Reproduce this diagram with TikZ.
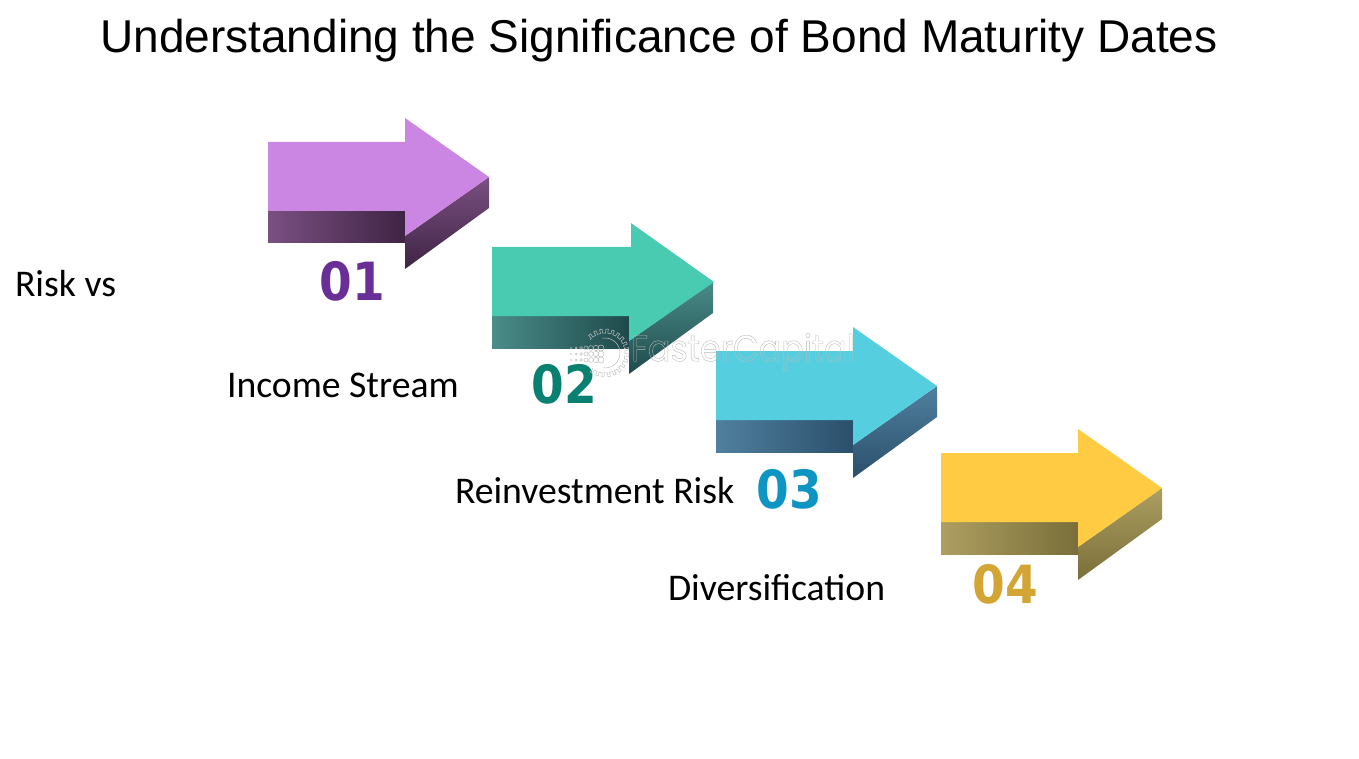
\documentclass[tikz,border=0pt]{standalone}
\usepackage{fontspec}
\setmainfont{Carlito}
\newfontfamily\titlefont{Liberation Sans}
\newfontfamily\numfont{DejaVu Sans}
\newfontfamily\markfont{Poppins}
\usepackage{xcolor}
\usetikzlibrary{positioning}
\definecolor{lilac}{HTML}{CB85E3}
\definecolor{lilacA}{HTML}{7A5082}
\definecolor{lilacB}{HTML}{3F2444}
\definecolor{lilacN}{HTML}{6A2F97}
\definecolor{mint}{HTML}{48CBB0}
\definecolor{mintA}{HTML}{4A8C88}
\definecolor{mintB}{HTML}{1F4A4C}
\definecolor{mintN}{HTML}{0A8070}
\definecolor{sky}{HTML}{55CFDF}
\definecolor{skyA}{HTML}{50809F}
\definecolor{skyB}{HTML}{2A4F6B}
\definecolor{skyN}{HTML}{0F95C4}
\definecolor{gold}{HTML}{FECB43}
\definecolor{goldA}{HTML}{AD9F60}
\definecolor{goldB}{HTML}{7A6E3A}
\definecolor{goldN}{HTML}{D2A535}
\tikzstyle{label} = [inner sep=0, outer sep=0, anchor=west, font=\fontsize{37.7}{40}\selectfont]
\tikzstyle{number} = [inner sep=0, outer sep=0, font=\numfont\bfseries\fontsize{47}{50}\selectfont]
\tikzstyle{wheel} = [draw=gray!50, line width=0.5pt]
\newcommand{\topface}{(0, 24) -- (137, 24) -- (137, 0) -- (221, 59) -- (137, 118) -- (137, 93) -- (0, 93) -- cycle}
\newcommand{\bandface}{(0, 93) rectangle (137, 125)}
\newcommand{\headface}{(137, 118) -- (221, 59) -- (221, 90) -- (137, 151) -- cycle}
\newcommand{\tall}[1]{\scalebox{1}[1.12]{#1}}

\begin{document}
\begin{tikzpicture}[x=1pt, y=-1pt]
\useasboundingbox (0, 0) rectangle (1359, 759);
\node at (659, 41) [inner sep=0, font=\titlefont\fontsize{46}{50}\selectfont] (title) {Understanding the Significance of Bond Maturity Dates};

\begin{scope}[shift={(268, 118)}]
\path [left color=lilacA, right color=lilacB] \bandface;
\path [top color=lilacA, bottom color=lilacB] \headface;
\path [fill=lilac] \topface;
\end{scope}
\node at (352, 281) [number, text=lilacN] (n1) {\tall{01}};
\node at (15, 283.5) [label] (l1) {Risk vs};

\begin{scope}[shift={(492, 223)}]
\path [left color=mintA, right color=mintB] \bandface;
\path [top color=mintA, bottom color=mintB] \headface;
\path [fill=mint] (0, 24) -- (139, 24) -- (139, 0) -- (222, 59) -- (137, 118) -- (137, 93) -- (0, 93) -- cycle;
\end{scope}
\node at (564, 384) [number, text=mintN] (n2) {\tall{02}};
\node at (227, 385.5) [label] (l2) {Income Stream};

\begin{scope}[shift={(716, 327)}]
\path [left color=skyA, right color=skyB] \bandface;
\path [top color=skyA, bottom color=skyB] \headface;
\path [fill=sky] \topface;
\end{scope}
\node at (789, 489) [number, text=skyN] (n3) {\tall{03}};
\node at (455, 491) [label] (l3) {Reinvestment Risk};

\begin{scope}[shift={(941, 429)}]
\path [left color=goldA, right color=goldB] \bandface;
\path [top color=goldA, bottom color=goldB] \headface;
\path [fill=gold] \topface;
\end{scope}
\node at (1005, 584) [number, text=goldN] (n4) {\tall{04}};
\node at (668, 588) [label] (l4) {Diversification};

% watermark
\node at (743, 352) [inner sep=0, text=gray!55, xscale=0.9, font=\markfont\fontsize{37}{40}\selectfont] (mark) {\special{pdf:code 1 Tr 0.4 w}FasterCapital\special{pdf:code 0 Tr}};
\begin{scope}[shift={(605, 353)}]
\draw [wheel] (-100:15) arc (-100:100:15);
\foreach \a in {-130, -115, ..., 130} {
  \draw [wheel] (\a-9:20) -- (\a-3:20) -- (\a-3:24) -- (\a+3:24) -- (\a+3:20) -- (\a+6:20);
}
\end{scope}
\foreach \x/\r in {571/0.6, 576/0.9, 581/1.4, 586/2, 591/2.4, 596/2.7, 601/3} {
  \draw [wheel] (\x, 348) circle (\r);
  \draw [wheel] (\x, 354) circle (\r);
  \draw [wheel] (\x, 360) circle (\r);
}
\end{tikzpicture}
\end{document}
